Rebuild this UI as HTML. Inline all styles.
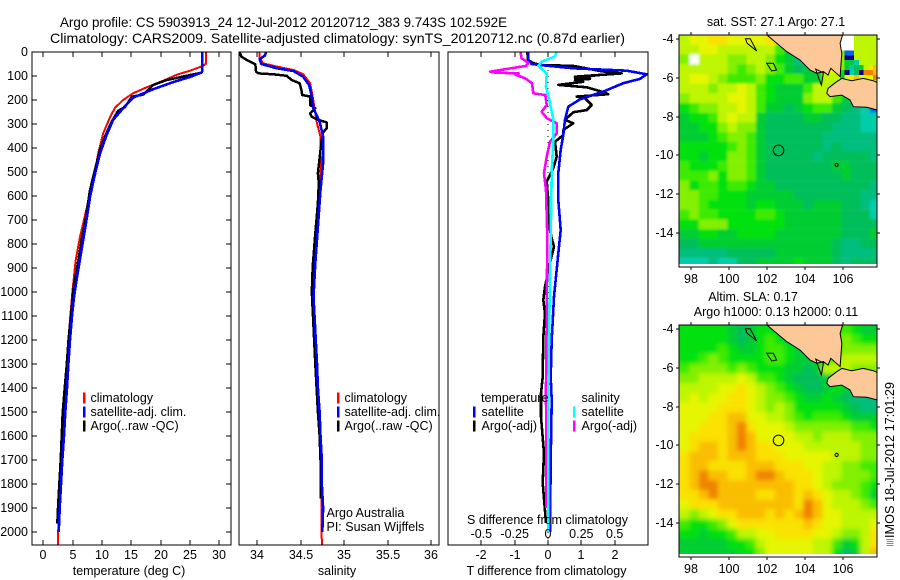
<!DOCTYPE html>
<html>
<head>
<meta charset="utf-8">
<title>Argo profile</title>
<style>
html,body{margin:0;padding:0;background:#fff;}
svg{display:block;}
text{font-family:"Liberation Sans",sans-serif;fill:#000;}
</style>
</head>
<body>
<svg id="fig" xmlns="http://www.w3.org/2000/svg" width="900" height="580" viewBox="0 0 900 580">
<defs>
<clipPath id="clip-sst"><rect x="679" y="35" width="198" height="229"/></clipPath>
<clipPath id="clip-sla"><rect x="679" y="325" width="198" height="229"/></clipPath>
<filter id="blur-sst" filterUnits="userSpaceOnUse" x="660" y="20" width="240" height="270"><feGaussianBlur stdDeviation="1.4"/></filter>
<filter id="blur-sla" filterUnits="userSpaceOnUse" x="660" y="310" width="240" height="270"><feGaussianBlur stdDeviation="2.4"/></filter>
</defs>
</svg>
<script>
const depthTicks=[0,100,200,300,400,500,600,700,800,900,1000,1100,1200,1300,1400,1500,1600,1700,1800,1900,2000];
const tempTicks=[0,5,10,15,20,25,30];
const salTicks=[34,34.5,35,35.5,36];
const tDiffTicks=[-2,-1,0,1,2];
const sDiffTicks=[-0.5,-0.25,0,0.25,0.5];
const lonTicks=[98,100,102,104,106];
const latTicks=[-4,-6,-8,-10,-12,-14];

const tempBlueDepth=[0,80,85,104,125,155,190,240,283,345,420,520,600,710,820,930,1020,1100,1200,1300,1400,1500,1600,1700,1800,1900,2000];
const tempBlue=[27.1,27.1,27,25,22.2,18.75,15.3,13.4,11.9,10.8,9.7,8.7,8,7.3,6.55,5.8,5.23,4.9,4.55,4.27,4.04,3.75,3.53,3.24,3.02,2.8,2.62];
const tempBlackDepth=[0,80,86,105,117,137,165,178,186,230,244,290,353,408,492,575,686,783,894,992,1100,1200,1300,1400,1500,1600,1700,1800,1900,1965];
const tempBlack=[27.1,27.1,27,23.3,21,18.75,17.6,17,15.1,13.9,12.8,11.65,10.5,9.66,8.8,7.96,7.28,6.54,5.8,5.1,4.7,4.3,4,3.65,3.3,3.13,2.96,2.73,2.5,2.39];
const tempRedDepth=[0,50,60,78,95,120,147,172,200,233,270,340,420,520,640,770,870,990,1100,1300,1500,1700,1900,2055];
const tempRed=[27.7,27.7,27,25,22.7,20.4,17.6,15.3,13.6,12.2,11.4,10.2,9.4,8.6,7.5,6.25,5.5,5,4.6,3.95,3.4,3,2.6,2.5];

const salBlueDepth=[0,5,15,30,50,68,79,103,138,186,235,290,353,463,575,728,880,1020,1300,1400,1500,1600,1700,1800,1900,2000];
const salBlue=[34.1,34.1,34.09,34.03,34.05,34.23,34.42,34.53,34.6,34.63,34.65,34.72,34.76,34.76,34.73,34.7,34.67,34.65,34.69,34.7,34.72,34.73,34.745,34.745,34.76,34.75];
const salBlackDepth=[0,19,33,51,82,89,93,99,117,130,158,179,186,221,235,256,270,283,293,318,335,374,442,505,547,630,756,894,999,1300,1500,1600,1700,1860];
const salBlack=[33.8,33.82,33.88,33.98,33.99,34.02,34.19,34.34,34.4,34.49,34.51,34.52,34.61,34.61,34.67,34.61,34.63,34.7,34.8,34.8,34.76,34.74,34.72,34.7,34.71,34.7,34.67,34.64,34.63,34.67,34.7,34.72,34.73,34.735];
const salRedDepth=[0,25,47,61,75,92,130,186,256,297,353,478,575,756,894,1020,1400,1800,2055];
const salRed=[34.03,34.03,34.07,34.23,34.42,34.53,34.61,34.64,34.67,34.69,34.73,34.735,34.72,34.68,34.65,34.645,34.7,34.74,34.745];

const dTBlueDepth=[0,33,50,54,68,78,93,112,130,165,197,228,283,346,408,505,617,742,839,1020,1200,1354,1450,1700,2000];
const dTBlue=[-0.59,-0.59,-0.49,-0.24,0.76,2.36,2.96,2.76,2.26,1.66,0.96,0.61,0.51,0.46,0.38,0.31,0.31,0.38,0.31,0.18,0.11,0.08,0.11,0.08,0.06];
const dTBlackDepth=[0,33,46,54,58,80,89,103,98,108,112,117,124,137,147,165,176,186,193,221,242,251,283,297,325,346,374,436,484,540,603,700,777,810,867,978,1033,1089,1187,1354,1422,1520,1672,1795,1962];
const dTBlack=[-0.62,-0.6,-0.45,-0.24,0.76,1.6,2.21,0.81,1.41,0.81,1.26,0.81,1.06,0.31,1.16,1.61,1.81,0.86,1.11,1.31,1.16,0.76,0.51,0.76,0.46,0.46,0.21,0.26,0.16,-0.04,0,0,0.11,0.18,0.08,-0.09,-0.14,-0.09,-0.14,-0.16,-0.21,-0.21,-0.12,-0.16,-0.06];
const dSMagentaDepth=[0,25,45,58,70,82,86,89,93,110,130,172,179,221,249,276,297,339,374,436,505,575,770,1100,1400,1900];
const dSMagenta=[-0.205,-0.2,-0.148,-0.165,-0.3,-0.435,-0.4,-0.22,-0.25,-0.17,-0.12,-0.11,-0.02,-0.01,-0.047,-0.01,0.065,0.065,0.015,-0.01,-0.03,-0.015,-0.005,-0.01,-0.015,-0.012];
const dSCyanDepth=[0,19,40,58,89,145,213,283,367,505,770,1100,1400,2000];
const dSCyan=[0.065,0.05,-0.047,-0.073,-0.01,-0.015,0.015,0.04,0.04,0.028,0.02,0.01,0.003,0.003];

const palette=['#00cdaa','#00be7d','#00be5a','#00cd32','#00e10a','#3ceb00','#82f000','#bef500','#e6f500','#fae100','#fabe00','#f08200','#0064f0','#00007d','#ffffff'];

const sstLevels=[
[7,8,8,9,9,8,8,8,8,9,8,8,8,8,8,8,8,14,7,7,7],
[7,7,8,8,7,7,7,7,7,7,5,3,8,8,8,8,8,14,7,7,7],
[6,14,7,7,7,6,6,7,7,6,4,3,1,2,8,8,8,7,7,7,7],
[7,7,7,7,7,6,5,6,7,6,5,3,2,3,3,8,8,7,7,7,7],
[7,8,8,7,6,5,5,5,6,4,4,5,5,3,3,7,7,7,7,7,7],
[7,7,7,6,7,7,8,7,5,4,3,3,3,5,7,7,6,5,9,8,8],
[6,7,7,7,7,8,8,7,5,4,3,3,3,6,7,7,5,3,3,3,3],
[4,5,6,6,7,7,8,7,5,3,3,2,3,4,5,5,3,2,1,0,12],
[3,4,4,5,7,8,7,7,3,2,2,2,2,3,3,2,2,1,1,0,0],
[3,3,4,4,6,7,6,6,3,2,2,2,2,2,2,2,1,1,1,0,0],
[3,3,3,4,5,6,6,5,3,2,2,2,2,2,2,1,1,1,1,1,1],
[4,4,4,4,4,5,6,5,3,2,2,2,2,2,2,1,2,1,1,1,1],
[4,4,3,4,4,6,6,5,3,2,2,2,2,2,1,2,2,2,2,2,1],
[5,4,4,4,5,6,6,5,3,2,2,2,2,2,2,2,3,3,2,2,2],
[5,5,5,6,4,6,6,5,3,2,2,2,2,2,2,2,2,3,2,2,2],
[6,4,5,5,4,5,5,4,3,3,2,2,2,2,2,2,2,2,2,2,1],
[6,6,5,5,4,4,4,3,3,3,3,3,2,2,2,2,2,2,2,1,1],
[6,6,5,4,4,4,4,3,4,4,3,3,3,2,3,3,3,2,2,1,0],
[5,6,5,5,4,4,4,4,5,5,4,3,3,3,3,3,3,2,2,2,0],
[4,4,6,6,6,4,4,4,4,4,4,3,3,3,3,3,3,2,2,2,2],
[3,3,4,4,3,3,4,4,4,4,3,3,3,3,3,3,3,2,2,2,3],
[2,2,3,3,3,3,3,3,3,3,3,3,3,3,3,3,2,1,1,2,2],
[1,1,1,1,1,2,2,2,2,2,3,3,3,3,3,3,2,1,1,1,1],
[0,0,0,1,0,0,2,2,3,3,3,3,4,3,3,3,2,1,2,2,2]
];

/* finer 0.25 degree cells for the patchy north-east corner of the SST map */
const sstCornerLevels=[
[14,14,14,7,7,7,7,7],
[14,14,14,7,7,7,7,7],
[14,14,14,7,7,7,7,7],
[6,12,12,7,7,7,7,7],
[6,13,13,7,7,7,7,7],
[6,3,3,0,7,7,7,7],
[6,3,0,2,3,7,9,10],
[4,13,0,2,13,11,11,10],
[3,8,9,10,8,8,8,11]
];

const slaLevels=[
[4,4,4,4,4,3,2,3,4,4,4,4,4,4,4,4,4,5,4,3,3],
[4,4,4,4,4,3,2,3,4,5,4,3,4,4,4,4,4,6,5,4,4],
[4,4,4,4,5,4,3,3,4,5,5,4,3,4,4,4,4,6,6,6,6],
[4,4,5,6,5,4,4,4,4,5,5,4,3,3,4,4,6,7,7,7,7],
[5,6,6,6,6,5,6,5,4,4,4,3,3,2,3,7,7,7,6,6,6],
[6,6,7,7,7,7,8,7,5,5,4,3,2,2,2,3,4,4,4,4,4],
[7,7,7,7,8,8,9,8,7,6,5,4,3,2,2,3,4,3,2,2,2],
[7,8,7,8,8,9,9,8,7,6,6,5,4,3,3,4,3,2,1,1,1],
[8,8,8,8,9,9,9,8,7,6,7,6,4,4,4,4,4,3,2,1,1],
[8,8,8,9,9,10,10,8,8,7,7,6,5,4,5,5,5,4,3,3,3],
[8,8,9,9,9,10,11,9,8,8,8,7,6,6,6,6,6,6,5,5,4],
[8,9,9,9,9,10,11,10,8,8,8,8,7,7,6,7,7,7,6,6,6],
[8,9,10,10,9,10,11,10,9,9,8,8,8,7,7,7,7,7,7,6,6],
[9,10,10,10,9,10,10,10,9,9,9,8,8,8,8,8,7,7,7,6,6],
[9,10,10,9,9,9,9,10,10,10,9,9,9,8,8,7,7,6,6,5,5],
[9,10,11,10,10,9,9,10,11,11,10,9,9,9,8,7,7,6,6,6,5],
[9,10,11,11,10,10,10,10,10,10,10,10,9,9,8,7,6,6,6,5,4],
[9,9,10,11,10,10,10,10,9,9,10,10,9,10,9,8,7,7,6,5,3],
[8,9,9,9,10,10,10,10,10,10,10,10,9,11,10,8,7,7,7,6,5],
[7,6,7,8,9,9,10,10,10,9,10,9,10,11,10,8,8,7,7,7,7],
[5,4,4,5,6,8,9,9,9,9,9,9,9,10,9,8,8,7,7,7,8],
[4,4,3,4,4,5,7,7,8,8,9,9,9,9,8,8,7,6,6,7,9],
[3,3,3,3,3,4,4,5,7,8,8,8,8,8,7,7,5,3,4,7,9],
[3,3,3,3,3,3,4,4,6,8,8,8,8,8,7,7,4,2,3,7,10]
];

const sumatraLon=[102,102.4,103.02,103.72,104.25,104.6,104.95,105.2,105.34,105.83,105.92,105.83,105.96];
const sumatraLat=[-3.81,-4.14,-4.65,-5.08,-5.6,-5.77,-5.68,-5.86,-5.51,-5.94,-4.74,-4.22,-3.81];
const javaLon=[105.92,106.44,107.05,107.58,107.8,107.8,107.23,106.53,106.35,105.92,105.3,105.13,105.2,105.65];
const javaLat=[-6.03,-6.15,-6.03,-6.15,-6.25,-7.66,-7.52,-7.49,-7.14,-6.89,-6.97,-6.8,-6.54,-6.2];
const island1Lon=[100.85,101.1,101.44,100.94];
const island1Lat=[-3.99,-3.99,-4.62,-4.22];
const island2Lon=[101.97,102.32,102.49,102.23];
const island2Lat=[-5.25,-5.25,-5.6,-5.65];
const island3Lon=[104.55,104.95,104.85,104.7];
const island3Lat=[-5.55,-5.75,-6.37,-6.0];
const profileLon=102.592;
const profileLat=-9.743;
const christmasLon=105.65;
const christmasLat=-10.49;

const svg=document.getElementById('fig');
const NS='http://www.w3.org/2000/svg';

function yDepth(d){return 52+d*0.24;}
function xTemp(t){return 43.3+5.867*t;}
function xSal(s){return 257+87*(s-34);}
function xDT(t){return 548+33.33*t;}
function xDS(s){return 548+133.3*s;}
function xLon(l){return 691.3+19*(l-98);}
function yLatTop(l){return 39-19.4*(l+4);}
function yLatBot(l){return 329-19.4*(l+4);}

function fmt(v){return String(v);}

function line(parent,x1,y1,x2,y2,name,stroke){
  const el=document.createElementNS(NS,'line');
  el.setAttribute('x1',x1);el.setAttribute('y1',y1);el.setAttribute('x2',x2);el.setAttribute('y2',y2);
  el.setAttribute('stroke',stroke||'#000');el.setAttribute('stroke-width',1);
  el.setAttribute('shape-rendering','crispEdges');
  
  
  parent.appendChild(el);
  return el;
}
function text(parent,x,y,str,name,anchor,size,tl){
  const el=document.createElementNS(NS,'text');
  el.setAttribute('x',x);el.setAttribute('y',y);
  el.setAttribute('font-size',size||12.5);
  el.setAttribute('text-anchor',anchor||'start');
  el.setAttribute('dominant-baseline','central');
  if(tl){el.setAttribute('textLength',tl);el.setAttribute('lengthAdjust','spacingAndGlyphs');}
  el.textContent=str;
  
  
  parent.appendChild(el);
  return el;
}
function frame(x,y,w,h,name){
  const el=document.createElementNS(NS,'rect');
  el.setAttribute('x',x);el.setAttribute('y',y);el.setAttribute('width',w);el.setAttribute('height',h);
  el.setAttribute('fill','none');el.setAttribute('stroke','#000');el.setAttribute('stroke-width',1.2);
  el.setAttribute('shape-rendering','crispEdges');
  
  
  svg.appendChild(el);
}
function curve(depths,vals,xf,color,width,name){
  const pts=depths.map((d,i)=>xf(vals[i]).toFixed(1)+','+yDepth(d).toFixed(1)).join(' ');
  const el=document.createElementNS(NS,'polyline');
  el.setAttribute('points',pts);
  el.setAttribute('fill','none');el.setAttribute('stroke',color);el.setAttribute('stroke-width',width);
  el.setAttribute('stroke-linejoin','round');
  el.setAttribute('shape-rendering','crispEdges');
  
  
  svg.appendChild(el);
}
function swatch(x,y,color,name){
  const el=document.createElementNS(NS,'rect');
  el.setAttribute('x',x);el.setAttribute('y',y-5.5);el.setAttribute('width',2.5);el.setAttribute('height',11);
  el.setAttribute('fill',color);
  
  
  svg.appendChild(el);
}
function poly(parent,lons,lats,yf,fill,name){
  const pts=lons.map((l,i)=>xLon(l).toFixed(1)+','+yf(lats[i]).toFixed(1)).join(' ');
  const el=document.createElementNS(NS,'polygon');
  el.setAttribute('points',pts);
  el.setAttribute('fill',fill);el.setAttribute('stroke','#000');el.setAttribute('stroke-width',1);
  
  
  parent.appendChild(el);
}
function marker(parent,lon,lat,yf,r,fill,name){
  const el=document.createElementNS(NS,'circle');
  el.setAttribute('cx',xLon(lon));el.setAttribute('cy',yf(lat));el.setAttribute('r',r);
  el.setAttribute('fill',fill);el.setAttribute('stroke','#000');el.setAttribute('stroke-width',1);
  
  
  parent.appendChild(el);
}
function heat(levels,clipId,blurId,yf,name,corner){
  const outer=document.createElementNS(NS,'g');
  outer.setAttribute('clip-path','url(#'+clipId+')');
  
  
  const inner=document.createElementNS(NS,'g');
  inner.setAttribute('filter','url(#'+blurId+')');
  
  
  levels.forEach((row,j)=>{
    row.forEach((v,i)=>{
      const lon=97.4+0.5*i, lat=-3.8-0.5*j;
      const x0=xLon(lon), y0=yf(lat);
      const el=document.createElementNS(NS,'rect');
      const pad=i===row.length-1?8:0, padL=i===0?8:0, padT=j===0?8:0, padB=j===levels.length-1?8:0;
      el.setAttribute('x',(x0-padL).toFixed(1));
      el.setAttribute('y',(y0-padT).toFixed(1));
      el.setAttribute('width',(9.6+pad+padL).toFixed(1));
      el.setAttribute('height',(9.8+padT+padB).toFixed(1));
      el.setAttribute('fill',palette[v]);
      
      
      inner.appendChild(el);
    });
  });
  outer.appendChild(inner);
  if(corner){
    corner.forEach((row,j)=>{
      row.forEach((v,i)=>{
        const el=document.createElementNS(NS,'rect');
        el.setAttribute('x',xLon(105.82+0.25*i).toFixed(1));
        el.setAttribute('y',(yf(-3.845-0.25*j)-(j===0?2:0)).toFixed(1));
        el.setAttribute('width',i===row.length-1?6:4.85);
        el.setAttribute('height',j===0?6.95:4.95);
        el.setAttribute('fill',palette[v]);
        el.setAttribute('shape-rendering','crispEdges');
        
        
        outer.appendChild(el);
      });
    });
  }
  poly(outer,sumatraLon,sumatraLat,yf,'#fdc897','sumatra-land');
  poly(outer,javaLon,javaLat,yf,'#fdc897','java-land');
  poly(outer,island1Lon,island1Lat,yf,'none','island-outline');
  poly(outer,island2Lon,island2Lat,yf,'none','island-outline');
  poly(outer,island3Lon,island3Lat,yf,'none','island-outline');
  marker(outer,christmasLon,christmasLat,yf,1.6,'none','christmas-island');
  svg.appendChild(outer);
}

/* titles */
text(svg,60,22,'Argo profile: CS 5903913_24 12-Jul-2012 20120712_383 9.743S 102.592E','figure-title-line-1','start',14,447);
text(svg,50,38,'Climatology: CARS2009. Satellite-adjusted climatology: synTS_20120712.nc (0.87d earlier)','figure-title-line-2','start',14,575);

/* panel 1 temperature */
curve(tempRedDepth,tempRed,xTemp,'#ff0000',2,'temperature-climatology-line');
curve(tempBlackDepth,tempBlack,xTemp,'#000000',2.5,'temperature-argo-line');
curve(tempBlueDepth,tempBlue,xTemp,'#0000ff',2.6,'temperature-satellite-line');
frame(32,52,199,493,'temperature-panel-frame');
depthTicks.forEach(d=>{
  const y=Math.round(yDepth(d));
  line(svg,32,y,37,y,'depth-tick-left');
  line(svg,226,y,231,y,'depth-tick-right');
  text(svg,28,y,fmt(d),'depth-tick-label','end');
});
tempTicks.forEach(t=>{
  const x=Math.round(xTemp(t));
  line(svg,x,52,x,57,'temperature-tick-top');
  line(svg,x,540,x,545,'temperature-tick-bottom');
  text(svg,x,555,fmt(t),'temperature-tick-label','middle');
});
text(svg,129,571,'temperature (deg C)','temperature-axis-title','middle');
swatch(83,398,'#ff0000','legend-swatch-climatology');
swatch(83,412,'#0000ff','legend-swatch-satellite');
swatch(83,426,'#000000','legend-swatch-argo');
text(svg,90.5,398,'climatology','legend-label-climatology');
text(svg,90.5,412,'satellite-adj. clim.','legend-label-satellite');
text(svg,90.5,426,'Argo(..raw -QC)','legend-label-argo');

/* panel 2 salinity */
curve(salRedDepth,salRed,xSal,'#ff0000',2,'salinity-climatology-line');
curve(salBlackDepth,salBlack,xSal,'#000000',2.5,'salinity-argo-line');
curve(salBlueDepth,salBlue,xSal,'#0000ff',2.6,'salinity-satellite-line');
frame(239,52,200,493,'salinity-panel-frame');
salTicks.forEach(s=>{
  const x=Math.round(xSal(s));
  line(svg,x,52,x,57,'salinity-tick-top');
  line(svg,x,540,x,545,'salinity-tick-bottom');
  text(svg,x,555,fmt(s),'salinity-tick-label','middle');
});
text(svg,337,571,'salinity','salinity-axis-title','middle');
swatch(337,398,'#ff0000','legend-swatch-climatology');
swatch(337,412,'#0000ff','legend-swatch-satellite');
swatch(337,426,'#000000','legend-swatch-argo');
text(svg,344.5,398,'climatology','legend-label-climatology');
text(svg,344.5,412,'satellite-adj. clim.','legend-label-satellite');
text(svg,344.5,426,'Argo(..raw -QC)','legend-label-argo');
text(svg,326.5,513,'Argo Australia','credit-argo-australia');
text(svg,326.5,527,'PI: Susan Wijffels','credit-principal-investigator');

/* panel 3 differences */
const zeroLine=line(svg,xDT(0),52,xDT(0),545,'zero-difference-line');
zeroLine.setAttribute('stroke-dasharray','1 5');
curve(dTBlackDepth,dTBlack,xDT,'#000000',2.6,'t-difference-argo-line');
curve(dTBlueDepth,dTBlue,xDT,'#0000ff',2.6,'t-difference-satellite-line');
curve(dSMagentaDepth,dSMagenta,xDS,'#ff00ff',2.6,'s-difference-argo-line');
curve(dSCyanDepth,dSCyan,xDS,'#00ffff',2.6,'s-difference-satellite-line');
frame(448,52,200,493,'difference-panel-frame');
tDiffTicks.forEach(t=>{
  const x=Math.round(xDT(t));
  line(svg,x,52,x,57,'t-difference-tick-top');
  line(svg,x,540,x,545,'t-difference-tick-bottom');
  text(svg,x,555,fmt(t),'t-difference-tick-label','middle');
});
sDiffTicks.forEach(s=>{
  text(svg,xDS(s),534,fmt(s),'s-difference-tick-label','middle');
});
text(svg,547.5,520,'S difference from climatology','s-difference-axis-title','middle');
text(svg,546.5,571,'T difference from climatology','t-difference-axis-title','middle');
text(svg,481,398,'temperature','legend-heading-temperature');
swatch(473,412,'#0000ff','legend-swatch-t-satellite');
swatch(473,426,'#000000','legend-swatch-t-argo');
text(svg,481.5,412,'satellite','legend-label-t-satellite');
text(svg,481.5,426,'Argo(-adj)','legend-label-t-argo');
text(svg,581.5,398,'salinity','legend-heading-salinity');
swatch(573,412,'#00ffff','legend-swatch-s-satellite');
swatch(573,426,'#ff00ff','legend-swatch-s-argo');
text(svg,581.5,412,'satellite','legend-label-s-satellite');
text(svg,581.5,426,'Argo(-adj)','legend-label-s-argo');

/* maps */
heat(sstLevels,'clip-sst','blur-sst',yLatTop,'sst',sstCornerLevels);
heat(slaLevels,'clip-sla','blur-sla',yLatBot,'sla',null);
marker(svg,profileLon,profileLat,yLatTop,5.3,'none','profile-location-sst');
marker(svg,profileLon,profileLat,yLatBot,5.3,'none','profile-location-sla');
frame(679,35,198,232,'sst-map-frame');
frame(679,325,198,232,'sla-map-frame');
[[yLatTop,35,267,279,'sst'],[yLatBot,325,557,569,'sla']].forEach(m=>{
  lonTicks.forEach(l=>{
    const x=Math.round(xLon(l));
    line(svg,x,m[1]-3,x,m[1],m[4]+'-lon-tick-top');
    line(svg,x,m[2],x,m[2]+3,m[4]+'-lon-tick-bottom');
    text(svg,x,m[3],fmt(l),m[4]+'-lon-tick-label','middle');
  });
  latTicks.forEach(l=>{
    const y=Math.round(m[0](l));
    line(svg,676,y,679,y,m[4]+'-lat-tick-left');
    line(svg,877,y,880,y,m[4]+'-lat-tick-right');
    text(svg,673.5,y,fmt(l),m[4]+'-lat-tick-label','end');
  });
});
text(svg,776,22,'sat. SST: 27.1 Argo: 27.1','sst-map-title','middle');
text(svg,753,297,'Altim. SLA: 0.17','sla-map-title','middle');
text(svg,776,312,'Argo h1000: 0.13 h2000: 0.11','argo-height-title','middle');
const stamp=text(svg,0,0,'IMOS 18-Jul-2012 17:01:29','timestamp-label','start',12.6,156);
stamp.setAttribute('transform','translate(890,538) rotate(-90)');
const stampBox=line(svg,890,539,890,546,'timestamp-box-glyph');
stampBox.setAttribute('stroke-width',7);
stampBox.setAttribute('stroke','#888');
stampBox.setAttribute('stroke-dasharray','1 1');
</script>
</body>
</html>
